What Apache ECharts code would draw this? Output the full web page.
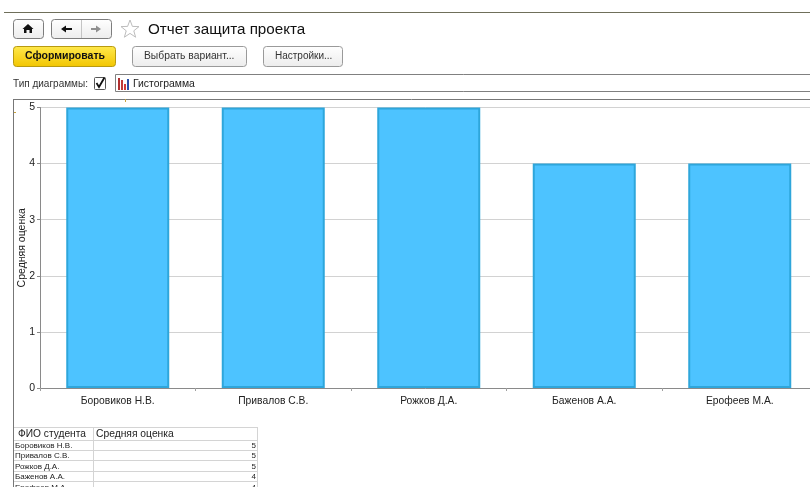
<!DOCTYPE html>
<html>
<head>
<meta charset="utf-8">
<style>html,body{margin:0;padding:0;background:#fff;overflow:hidden}#c{width:810px;height:487px}</style>
<script src="https://cdn.jsdelivr.net/npm/echarts@6/dist/echarts.min.js"></script>
</head>
<body>
<div id="c"></div>
<script>
const students = ['Боровиков Н.В.', 'Привалов С.В.', 'Рожков Д.А.', 'Баженов А.А.', 'Ерофеев М.А.'];
const grades = [5, 5, 5, 4, 4];
const yTicks = [0, 1, 2, 3, 4, 5];
const yAxisName = 'Средняя оценка';
const reportTitle = 'Отчет защита проекта';
const columnHeads = ['ФИО студента', 'Средняя оценка'];

const FONT = '"Liberation Sans", Arial, sans-serif';

function label(x, y, text, size, color, extra) {
  return { type: 'text', x, y, silent: true,
    style: Object.assign({ text, fontSize: size, fontFamily: FONT, fill: color || '#222', textVerticalAlign: 'middle' }, extra || {}) };
}
function box(x, y, w, h, fill, stroke, r) {
  return { type: 'rect', silent: true, shape: { x: x + 0.5, y: y + 0.5, width: w, height: h, r: r || 0 },
    style: { fill: fill || 'none', stroke: stroke || '#8c8c8c', lineWidth: 1 } };
}
function rule(x1, y1, x2, y2, color, w) {
  return { type: 'line', silent: true, shape: { x1, y1, x2, y2 }, style: { stroke: color, lineWidth: w || 1 } };
}
function shape(points, fill) {
  return { type: 'polygon', silent: true, shape: { points }, style: { fill } };
}
const btnFill = { type: 'linear', x: 0, y: 0, x2: 0, y2: 1, colorStops: [{ offset: 0, color: '#ffffff' }, { offset: 1, color: '#ececec' }] };
const goFill = { type: 'linear', x: 0, y: 0, x2: 0, y2: 1, colorStops: [{ offset: 0, color: '#ffe94d' }, { offset: 1, color: '#f2c500' }] };
const starPoints = [[130, 20], [132.4, 26.4], [139, 26.6], [133.8, 30.8], [135.6, 37.2], [130, 33.4], [124.4, 37.2], [126.2, 30.8], [121, 26.6], [127.6, 26.4]];

// Application toolbar around the chart
const chrome = [
  rule(4, 12.5, 810, 12.5, '#6f6f5a', 1),

  box(13, 19, 30, 19, btnFill, '#7d7d7d', 3),
  shape([[28, 24], [33.5, 29], [32, 29], [32, 33], [29.5, 33], [29.5, 30], [26.5, 30], [26.5, 33], [24, 33], [24, 29], [22.5, 29]], '#111'),

  box(51, 19, 60, 19, btnFill, '#7d7d7d', 3),
  rule(81.5, 20, 81.5, 38, '#c4c4c4'),
  shape([[61, 29], [66, 25.5], [66, 28], [72, 28], [72, 30], [66, 30], [66, 32.5]], '#111'),
  shape([[101, 29], [96, 25.5], [96, 28], [91, 28], [91, 30], [96, 30], [96, 32.5]], '#8f8f8f'),

  { type: 'polygon', silent: true, shape: { points: starPoints }, style: { fill: '#fff', stroke: '#bdbdbd', lineWidth: 1 } },
  label(148, 29.5, reportTitle, 15.2, '#111'),

  box(13, 46, 102, 20, goFill, '#b89a10', 3),
  label(25, 56, 'Сформировать', 10.5, '#111', { fontWeight: 'bold' }),
  box(132, 46, 114, 20, btnFill, '#9a9a9a', 3),
  label(144, 56, 'Выбрать вариант...', 10.3, '#333'),
  box(263, 46, 79, 20, btnFill, '#9a9a9a', 3),
  label(275, 56, 'Настройки...', 10, '#333'),

  label(13, 84, 'Тип диаграммы:', 10, '#333'),
  box(94, 77, 11, 12, '#fff', '#555', 1),
  { type: 'polyline', silent: true, shape: { points: [[96.5, 83], [99, 87], [104.5, 77.5]] }, style: { stroke: '#111', lineWidth: 1.8, fill: 'none' } },
  box(115, 74, 700, 17, '#fff', '#808080', 0),
  { type: 'rect', silent: true, shape: { x: 118, y: 78, width: 2, height: 12 }, style: { fill: '#b03030' } },
  { type: 'rect', silent: true, shape: { x: 121, y: 80, width: 2, height: 10 }, style: { fill: '#c03a3a' } },
  { type: 'rect', silent: true, shape: { x: 124, y: 84, width: 2, height: 6 }, style: { fill: '#d03a3a' } },
  { type: 'rect', silent: true, shape: { x: 127, y: 79, width: 2, height: 11 }, style: { fill: '#2a4fa8' } },
  label(133, 84, 'Гистограмма', 10.4, '#222'),

  // Chart frame
  rule(13.5, 99, 13.5, 487, '#777', 1),
  rule(13, 99.5, 810, 99.5, '#777', 1),
  rule(125.5, 99, 125.5, 102, '#c9a23c', 1),
  rule(14, 112.5, 16, 112.5, '#c9a23c', 1)
];

// Data table below the chart
const tableLeft = 14, tableMid = 93, tableRight = 257, headTop = 427, headBottom = 440, rowH = 10.45;
const tableParts = [
  rule(tableLeft, headTop + 0.5, tableRight, headTop + 0.5, '#d4d4d4'),
  rule(tableRight + 0.5, headTop, tableRight + 0.5, 487, '#d4d4d4'),
  rule(tableMid + 0.5, headTop, tableMid + 0.5, 487, '#d4d4d4'),
  rule(tableLeft, headBottom + 0.5, tableRight, headBottom + 0.5, '#d4d4d4'),
  label(18, headTop + 7.5, columnHeads[0], 10.2, '#222'),
  label(96, headTop + 7.5, columnHeads[1], 10.3, '#222')
];
students.forEach((name, i) => {
  const lineY = headBottom + rowH * (i + 1);
  const midY = lineY - rowH / 2;
  tableParts.push(rule(tableLeft, Math.floor(lineY) + 0.5, tableRight, Math.floor(lineY) + 0.5, '#d4d4d4'));
  tableParts.push(label(15, midY + 0.5, name, 8, '#222'));
  tableParts.push(label(256, midY + 0.5, String(grades[i]), 8, '#222', { textAlign: 'right' }));
});

const chart = echarts.init(document.getElementById('c'), null, { renderer: 'canvas' });
chart.setOption({
  animation: false,
  backgroundColor: '#fff',
  textStyle: { fontFamily: FONT },
  grid: { left: 40, top: 107.5, width: 777.5, height: 280.5, containLabel: false, outerBoundsMode: 'none' },
  xAxis: {
    type: 'category',
    data: students,
    axisLine: { lineStyle: { color: '#8a8a8a', width: 1 } },
    axisTick: { show: true, alignWithLabel: false, length: 3, lineStyle: { color: '#a0a0a0' } },
    axisLabel: { color: '#222', fontSize: 10.3, margin: 8, interval: 0 }
  },
  yAxis: {
    type: 'value',
    min: yTicks[0],
    max: yTicks[yTicks.length - 1],
    interval: 1,
    name: yAxisName,
    nameLocation: 'middle',
    nameGap: 12,
    nameMoveOverlap: false,
    nameTextStyle: { color: '#222', fontSize: 10.5 },
    axisLine: { show: true, lineStyle: { color: '#8a8a8a', width: 1 } },
    axisTick: { show: true, length: 3, lineStyle: { color: '#8a8a8a' } },
    axisLabel: { color: '#222', fontSize: 10.5, margin: 5 },
    splitLine: { show: true, lineStyle: { color: '#d2d2d2', width: 1 } }
  },
  series: [{
    type: 'bar',
    data: grades,
    barWidth: 103,
    itemStyle: { color: '#4dc3ff', borderColor: '#2ea6db', borderWidth: 2 }
  }],
  graphic: { elements: chrome.concat(tableParts) }
});
</script>
</body>
</html>
